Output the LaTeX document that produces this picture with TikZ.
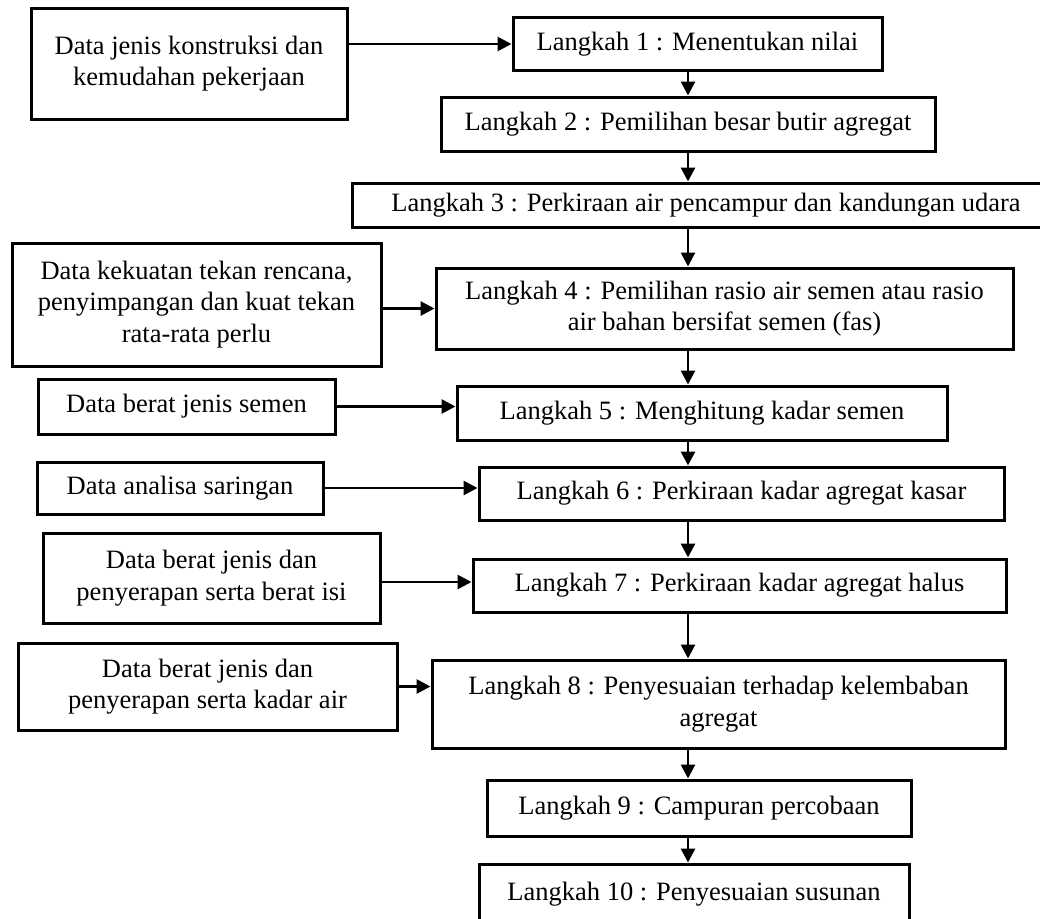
\documentclass[tikz,border=0pt]{standalone}
\usepackage{fontspec}
\setmainfont{Liberation Serif}
\usetikzlibrary{arrows.meta,calc}
\begin{document}
\begin{tikzpicture}[x=1pt,y=-1pt,
  box/.style={draw=black, line width=3pt, rectangle, inner sep=0pt, align=center,
              font=\fontsize{26.5}{31.5}\selectfont},
  arr/.style={line width=2.8pt, -{Triangle[length=14pt,width=14pt]}}]
\useasboundingbox (0,0) rectangle (1040,918);
\fill[white] (0,0) rectangle (1040,918);
\clip (0,0) rectangle (1040,918);
% data boxes (left)
\node[box, minimum width=316pt, minimum height=111pt] (D1) at (189,63.5) {Data jenis konstruksi dan\\kemudahan pekerjaan};
\node[box, minimum width=369pt, minimum height=123pt] (D4) at (196.5,304.5) {Data kekuatan tekan rencana,\\penyimpangan dan kuat tekan\\rata-rata perlu};
\node[box, minimum width=297pt, minimum height=55pt] (D5) at (186.5,406.5) {Data berat jenis semen};
\node[box, minimum width=286pt, minimum height=52pt] (D6) at (180,488) {Data analisa saringan};
\node[box, minimum width=337pt, minimum height=90pt] (D7) at (211.5,578) {Data berat jenis dan\\penyerapan serta berat isi};
\node[box, minimum width=379pt, minimum height=87pt] (D8) at (207.5,686.5) {Data berat jenis dan\\penyerapan serta kadar air};
% steps
\node[box, minimum width=369pt, minimum height=53pt] (S1) at (697.5,44) {Langkah 1 : Menentukan nilai};
\node[box, minimum width=494pt, minimum height=54pt] (S2) at (688,124) {Langkah 2 : Pemilihan besar butir agregat};
\node[box, minimum width=708pt, minimum height=44pt] (S3) at (706,205) {\raisebox{-4pt}{Langkah 3 : Perkiraan air pencampur dan kandungan udara}};
\node[box, minimum width=577pt, minimum height=81pt] (S4) at (724.5,308.5) {Langkah 4 : Pemilihan rasio air semen atau rasio\\air bahan bersifat semen (fas)};
\node[box, minimum width=490pt, minimum height=54pt] (S5) at (702,413) {Langkah 5 : Menghitung kadar semen};
\node[box, minimum width=525pt, minimum height=53pt] (S6) at (741.5,493.5) {Langkah 6 : Perkiraan kadar agregat kasar};
\node[box, minimum width=533pt, minimum height=53pt] (S7) at (739.5,585.5) {Langkah 7 : Perkiraan kadar agregat halus};
\node[box, minimum width=573pt, minimum height=88pt] (S8) at (718.5,704) {Langkah 8 : Penyesuaian terhadap kelembaban\\agregat};
\node[box, minimum width=424pt, minimum height=56pt] (S9) at (699,808) {Langkah 9 : Campuran percobaan};
\node[box, minimum width=430pt, minimum height=60pt] (S10) at (694,894) {Langkah 10 : Penyesuaian susunan};
% spine for vertical arrows
\coordinate (ax) at (688,0);
\draw[arr] (S1.south -| ax) -- (S2.north -| ax);
\draw[arr] (S2.south -| ax) -- (S3.north -| ax);
\draw[arr] (S3.south -| ax) -- (S4.north -| ax);
\draw[arr] (S4.south -| ax) -- (S5.north -| ax);
\draw[arr] (S5.south -| ax) -- (S6.north -| ax);
\draw[arr] (S6.south -| ax) -- (S7.north -| ax);
\draw[arr] (S7.south -| ax) -- (S8.north -| ax);
\draw[arr] (S8.south -| ax) -- (S9.north -| ax);
\draw[arr] (S9.south -| ax) -- (S10.north -| ax);
% data inputs
\coordinate (d7e) at ($(D7.east)+(0,4)$);
\draw[arr] (D1.east |- S1.west) -- (S1.west);
\draw[arr] (D4.east |- S4.west) -- (S4.west);
\draw[arr] (D5.east) -- (D5.east -| S5.west);
\draw[arr] (D6.east) -- (D6.east -| S6.west);
\draw[arr] (d7e) -- (d7e -| S7.west);
\draw[arr] (D8.east) -- (D8.east -| S8.west);
\end{tikzpicture}
\end{document}
